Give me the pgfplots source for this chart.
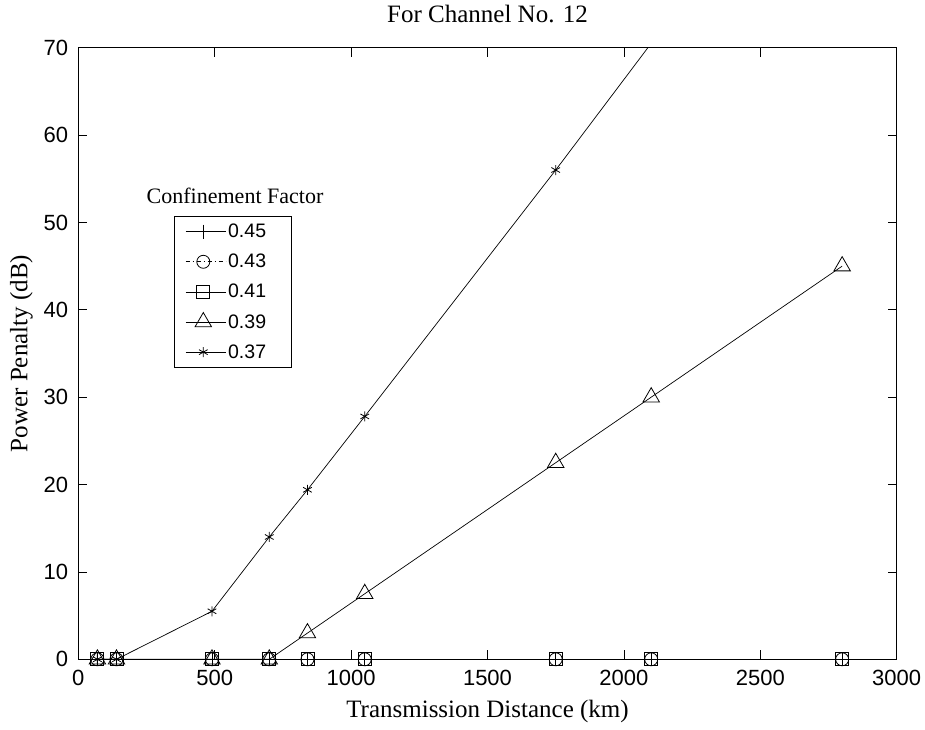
\documentclass[border=0pt]{standalone}
\usepackage{fontspec}
\setmainfont{Liberation Serif}
\newfontfamily\sansf{Liberation Sans}
\usepackage{pgfplots}
\pgfplotsset{compat=1.18}

\begin{document}
\begin{tikzpicture}
\begin{axis}[
  scale only axis, width=818.4pt, height=611.6pt,
  xmin=0, xmax=3000, ymin=0, ymax=70,
  xtick={0,500,...,3000}, ytick={0,10,...,70},
  scaled x ticks=false,
  tick align=inside, tick pos=both, major tick length=9pt,
  axis line style={line width=0.9pt},
  every tick/.style={line width=0.8pt, black},
  ticklabel style={font=\fontsize{22}{22}\selectfont\sansf},
  /pgf/number format/assume math mode=true,
  /pgf/number format/set thousands separator={},
  xticklabel style={anchor=north, inner sep=0pt, yshift=-11pt},
  yticklabel style={anchor=east, inner sep=0pt, xshift=-10pt},
  title={For Channel No. 12},
  title style={at={(axis description cs:0.5,1.0322)}, anchor=base, font=\fontsize{25}{25}\selectfont},
  xlabel={Transmission Distance (km)},
  xlabel style={at={(axis description cs:0.5,-0.0948)}, anchor=base, font=\fontsize{25}{25}\selectfont},
  ylabel={Power Penalty (dB)},
  ylabel style={at={(axis description cs:-0.0696,0.5)}, anchor=center, font=\fontsize{25}{25}\selectfont},
  clip mode=individual,
  legend cell align=left,
  legend style={at={(axis description cs:0.117,0.7253)}, anchor=north west,
    draw=black, line width=0.8pt, fill=white,
    font=\fontsize{19.5}{19.5}\selectfont\sansf,
    inner xsep=11pt, inner ysep=6pt, row sep=11pt,
    nodes={text width=50pt}},
  legend image code/.code={\draw[mark repeat=2,mark phase=2] plot coordinates {(0pt,0pt)(17.5pt,0pt)(35pt,0pt)};
    \path (0pt,0pt) -- (40pt,0pt);},
]
\addplot[black, line width=0.7pt, mark=+, mark size=7pt, mark options={solid, line width=0.8pt}]
  coordinates {(70,0)(140,0)(490,0)(700,0)(840,0)(1050,0)(1750,0)(2100,0)(2800,0)};
\addlegendentry{0.45}
\addplot[black, line width=0.7pt, dash pattern=on 4pt off 3pt on 1pt off 3pt, mark=o, mark size=6.5pt, mark options={solid, line width=0.8pt}]
  coordinates {(70,0)(140,0)(490,0)(700,0)(840,0)(1050,0)(1750,0)(2100,0)(2800,0)};
\addlegendentry{0.43}
\addplot[black, line width=0.7pt, mark=square, mark size=6.5pt, mark options={solid, line width=0.8pt}]
  coordinates {(70,0)(140,0)(490,0)(700,0)(840,0)(1050,0)(1750,0)(2100,0)(2800,0)};
\addlegendentry{0.41}
\addplot[black, line width=0.7pt, mark=triangle, mark size=9.5pt, mark options={solid, line width=0.8pt}]
  coordinates {(70,0)(140,0)(490,0)(700,0)(840,3)(1050,7.5)(1750,22.5)(2100,30)(2800,45)};
\addlegendentry{0.39}
\addplot[black, line width=0.7pt, mark=asterisk, mark size=5pt, mark indices={1,2,3,4,5,6,7}, mark options={solid, line width=0.8pt},
  legend image post style={mark indices={2}}]
  coordinates {(70,0)(140,0)(490,5.5)(700,14)(840,19.4)(1050,27.8)(1750,56)(2100,70.5)(2800,98.5)};
\addlegendentry{0.37}
\node[anchor=base, font=\fontsize{22}{22}\selectfont] at (axis description cs:0.1915,0.7456) {Confinement Factor};
\end{axis}
\path (-78.3pt,-69.7pt) rectangle (846.7pt,659.3pt);
\end{tikzpicture}
\end{document}
